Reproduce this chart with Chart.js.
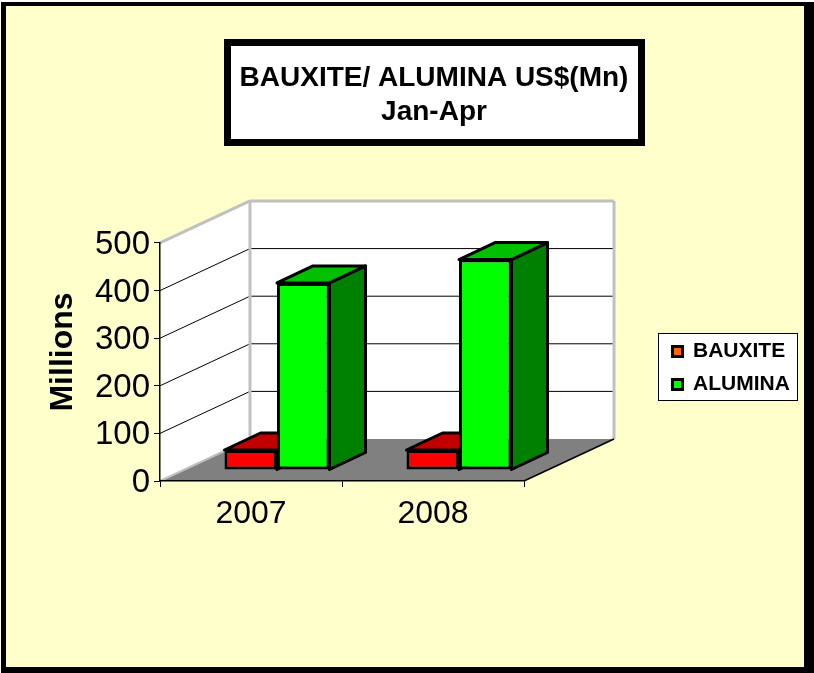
<!DOCTYPE html>
<html>
<head>
<meta charset="utf-8">
<style>
  html, body { margin: 0; padding: 0; background: #fff; }
  canvas { display: block; }
</style>
<script src="https://cdn.jsdelivr.net/npm/chart.js@4/dist/chart.umd.min.js"></script>
</head>
<body>
<canvas id="myChart" width="814" height="673"></canvas>
<script>
const years = ['2007', '2008'];
const bauxite = [42, 42];
const alumina = [393, 442];
const yTicks = [0, 100, 200, 300, 400, 500];
const titleLines = ['BAUXITE/ ALUMINA US$(Mn)', 'Jan-Apr'];

Chart.defaults.font.family = '"Liberation Sans", Arial, sans-serif';
Chart.defaults.color = '#000';

// fake 3D: how far the back wall sits from the front axes, and the bars' own depth
const wallDepth = { x: 90, y: -42 };
const barDepth = { x: 36, y: -17 };
const barShift = { x: 26, y: -11 };

function poly(ctx, pts, fill, stroke, lw) {
  ctx.beginPath();
  pts.forEach((p, i) => i ? ctx.lineTo(p[0], p[1]) : ctx.moveTo(p[0], p[1]));
  ctx.closePath();
  if (fill) { ctx.fillStyle = fill; ctx.fill(); }
  if (stroke) { ctx.strokeStyle = stroke; ctx.lineWidth = lw; ctx.lineJoin = 'round'; ctx.stroke(); }
}

function line(ctx, x1, y1, x2, y2, color, lw) {
  ctx.beginPath();
  ctx.moveTo(x1, y1);
  ctx.lineTo(x2, y2);
  ctx.strokeStyle = color;
  ctx.lineWidth = lw;
  ctx.stroke();
}

// nudge one of a scale's draw methods by a few pixels
function nudge(scale, method, chart, dx, dy) {
  const orig = scale[method];
  scale[method] = function (...args) {
    chart.ctx.save();
    chart.ctx.translate(dx, dy);
    orig.apply(scale, args);
    chart.ctx.restore();
  };
}

const scene3d = {
  id: 'scene3d',
  afterLayout(chart) {
    // title sits centred over the box, legend inside its own box
    chart.titleBlock.left = 231;
    chart.titleBlock.right = 637;
    const lg = chart.legend;
    const w = lg.width, h = lg.height;
    lg.left = 660.5; lg.right = 660.5 + w;
    lg.top = 329; lg.bottom = 329 + h;
    const sy = chart.scales.y;
    if (!sy._shifted) {
      sy._shifted = true;
      nudge(sy, 'drawTitle', chart, 0, -10); // axis title is a bit above the middle
      nudge(sy, 'drawLabels', chart, 0, 2);
    }
  },
  beforeDraw(chart) {
    const ctx = chart.ctx;
    const a = chart.chartArea;
    const sy = chart.scales.y;
    const dx = wallDepth.x, dy = wallDepth.y;

    // frame
    ctx.fillStyle = '#000';
    ctx.fillRect(1, 2, 813, 671);
    ctx.fillStyle = '#FFFFCC';
    ctx.fillRect(6, 6, 798, 661);

    // title box
    ctx.fillStyle = '#000';
    ctx.fillRect(224, 39, 421, 107);
    ctx.fillStyle = '#fff';
    ctx.fillRect(231, 46, 407, 93);

    // legend box
    ctx.fillStyle = '#fff';
    ctx.fillRect(659, 334, 138, 66);
    ctx.strokeStyle = '#000';
    ctx.lineWidth = 1;
    ctx.strokeRect(658.5, 333.5, 139, 67);

    // walls and floor
    const yb = sy.getPixelForValue(0);
    const yt = sy.getPixelForValue(500);
    poly(ctx, [[a.left, yt], [a.left + dx, yt + dy], [a.left + dx, yb + dy], [a.left, yb]], '#fff');
    poly(ctx, [[a.left + dx, yt + dy], [a.right + dx, yt + dy], [a.right + dx, yb + dy], [a.left + dx, yb + dy]], '#fff');
    poly(ctx, [[a.left, yb], [a.right, yb], [a.right + dx, yb + dy], [a.left + dx, yb + dy]], '#808080');

    // gridlines on side and back wall
    yTicks.slice(1, -1).forEach(v => {
      const y = sy.getPixelForValue(v);
      line(ctx, a.left, y, a.left + dx, y + dy, '#000', 1);
      line(ctx, a.left + dx, y + dy, a.right + dx, y + dy, '#000', 1);
    });
    line(ctx, a.left, yt, a.left + dx, yt + dy, '#C0C0C0', 3);
    line(ctx, a.left + dx, yt + dy, a.right + dx, yt + dy, '#C0C0C0', 3);
    line(ctx, a.right + dx, yt + dy, a.right + dx, yb + dy, '#C0C0C0', 3);
    line(ctx, a.left + dx, yt + dy, a.left + dx, yb + dy, '#C0C0C0', 3);
    line(ctx, a.left, yb, a.left + dx, yb + dy, '#C0C0C0', 2);
    line(ctx, a.right, yb, a.right + dx, yb + dy, '#000', 1.5);
  },
  beforeDatasetsDraw(chart) {
    const ctx = chart.ctx;
    const topColors = ['#C00000', '#00C000'];
    const sideColors = ['#800000', '#008000'];
    ctx.save();
    ctx.translate(barShift.x, barShift.y);
    chart.data.datasets.forEach((ds, i) => {
      chart.getDatasetMeta(i).data.forEach(bar => {
        const l = bar.x - bar.width / 2, r = bar.x + bar.width / 2;
        const t = bar.y, b = bar.base;
        const ox = barDepth.x, oy = barDepth.y;
        poly(ctx, [[r, t], [r + ox, t + oy], [r + ox, b + oy], [r, b]], sideColors[i], '#000', 3);
        poly(ctx, [[l, t], [l + ox, t + oy], [r + ox, t + oy], [r, t]], topColors[i], '#000', 3);
      });
    });
    ctx.restore();
    // the bars themselves are pulled back from the front edge too
    ctx.save();
    ctx.translate(barShift.x, barShift.y);
  },
  afterDatasetsDraw(chart) {
    chart.ctx.restore();
  }
};

const ctx = document.getElementById('myChart').getContext('2d');
const chart = new Chart(ctx, {
  type: 'bar',
  data: {
    labels: years,
    datasets: [
      { label: 'BAUXITE', data: bauxite, backgroundColor: '#FF0000', borderColor: '#000', borderWidth: 3, borderSkipped: false, clip: false },
      { label: 'ALUMINA', data: alumina, backgroundColor: '#00FF00', borderColor: '#000', borderWidth: 3, borderSkipped: false, clip: false }
    ]
  },
  options: {
    responsive: false,
    animation: false,
    layout: { padding: { left: 0, right: 290, top: 0, bottom: 0 } },
    datasets: { bar: { categoryPercentage: 0.577, barPercentage: 1 } },
    plugins: {
      tooltip: { enabled: false },
      title: {
        display: true,
        text: titleLines,
        font: { size: 28, weight: 'bold', lineHeight: 1.214 },
        color: '#000',
        padding: { top: 61, bottom: 114 }
      },
      legend: {
        position: 'chartArea',
        align: 'start',
        labels: {
          boxWidth: 10,
          boxHeight: 10,
          padding: 12,
          color: '#000',
          font: { size: 21, weight: 'bold' },
          generateLabels: () => [
            { text: 'BAUXITE', fillStyle: '#FF6600', strokeStyle: '#000', fontColor: '#000', lineWidth: 3, datasetIndex: 0 },
            { text: 'ALUMINA', fillStyle: '#00FF00', strokeStyle: '#000', fontColor: '#000', lineWidth: 3, datasetIndex: 1 }
          ]
        }
      }
    },
    scales: {
      x: {
        grid: { drawOnChartArea: false, drawTicks: true, tickLength: 6, color: '#000', offset: true },
        border: { color: '#000', width: 1.5 },
        ticks: { font: { size: 32 }, color: '#000', maxRotation: 0, padding: 8 },
        afterFit: s => { s.height = 192; }
      },
      y: {
        min: 0,
        max: 500,
        afterBuildTicks: s => { s.ticks = yTicks.map(v => ({ value: v })); },
        grid: { drawOnChartArea: false, drawTicks: true, tickLength: 6, color: '#000' },
        border: { color: '#000', width: 1.5 },
        ticks: { font: { size: 33 }, color: '#000', padding: 4 },
        title: {
          display: true,
          text: 'Millions',
          color: '#000',
          font: { size: 32, weight: 'bold' },
          padding: { top: 44, bottom: 0 }
        },
        afterFit: s => { s.width = 160; }
      }
    }
  },
  plugins: [scene3d]
});
</script>
</body>
</html>
